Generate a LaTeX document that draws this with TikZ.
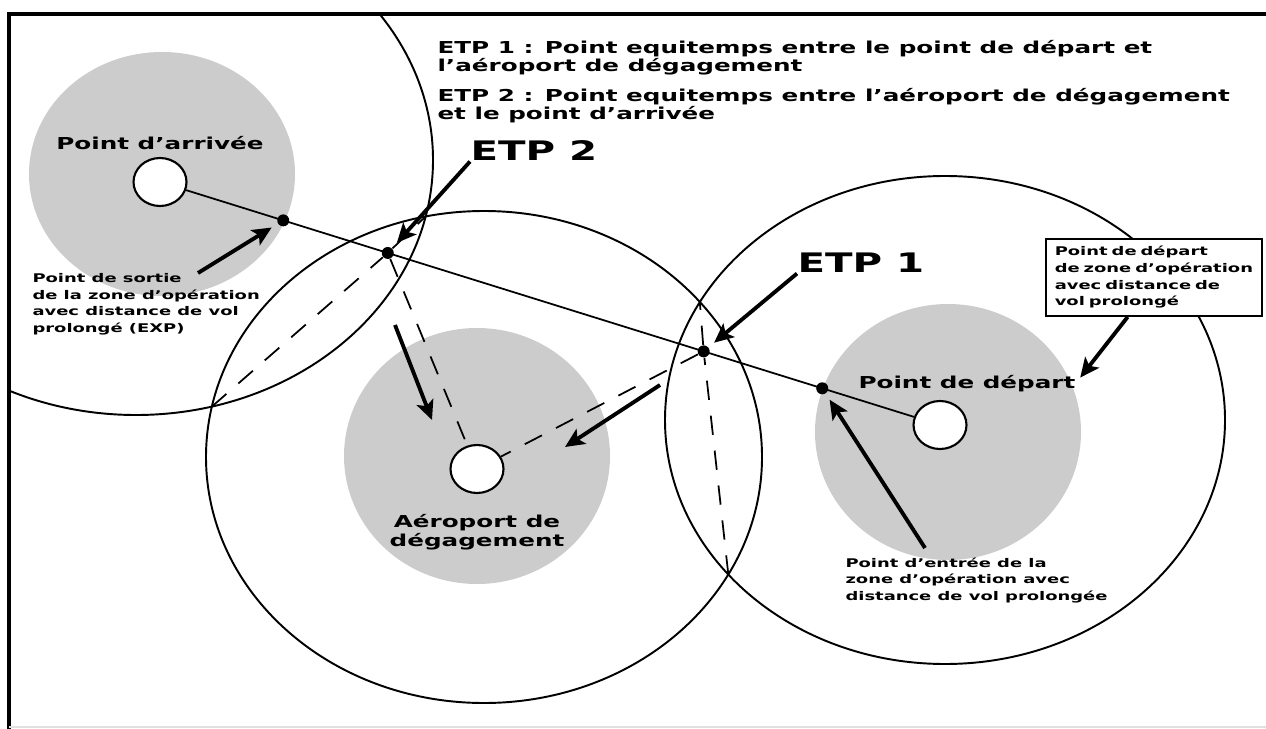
\documentclass[tikz,border=0pt]{standalone}
\usepackage{fontspec}
\newfontfamily\widefont[FakeStretch=1.5]{DejaVu Sans}
\usepackage{tikz}
\usetikzlibrary{positioning}
\usetikzlibrary{arrows.meta}
\usetikzlibrary{shapes,calc,intersections}
\tikzset{airport node/.style={ellipse,draw,fill=white,line width=1.2pt,minimum width=1.06cm,minimum height=0.96cm,inner sep=0pt},
  point node/.style={circle,fill=black,minimum size=0.24cm,inner sep=0pt},
  zone/.style={line width=1.1pt},
  area/.style={fill=black!20},
  route/.style={line width=1pt},
  divert/.style={line width=1pt,dash pattern=on 11pt off 9pt},
  pointer/.style={line width=2.2pt,-{Stealth[length=11pt,width=10pt,inset=2.5pt]},shorten >=4pt},
  big label/.style={font=\widefont\bfseries\fontsize{15.3}{18}\selectfont,inner sep=0pt},
  name label/.style={font=\widefont\bfseries\fontsize{9.35}{11.3}\selectfont,inner sep=0pt,align=center},
  small label/.style={font=\widefont\bfseries\fontsize{6.8}{9.5}\selectfont,inner sep=0pt,align=left},
  legend label/.style={font=\widefont\bfseries\fontsize{9.35}{10.2}\selectfont,inner sep=0pt,align=left,anchor=north west},
}

\begin{document}
\begin{tikzpicture}[x=0.02cm,y=-0.02cm,semithick]
    \useasboundingbox (0,0) rectangle (1266,729);
    \begin{scope}
      \clip (9,14) rectangle (1266,729);
      % grey areas round the airports
      \fill[area] (162,174) ellipse [x radius=133, y radius=122];
      \fill[area] (477,456) ellipse [x radius=133, y radius=128];
      \fill[area] (948,432) ellipse [x radius=133, y radius=128];
      % distance circles
      \draw[zone,name path=zarr] (136,160) ellipse [x radius=297, y radius=255];
      \draw[zone,name path=zdeg] (484,457) ellipse [x radius=278, y radius=246];
      \draw[zone,name path=zdep] (945,420) ellipse [x radius=280, y radius=244];
      \path[name intersections={of=zarr and zdeg,name=lensa}];
      \path[name intersections={of=zdeg and zdep,name=lensb}];
    \end{scope}

    \node[airport node] (arrivee) at (160,182) {};
    \node[airport node] (degagement) at (477,469) {};
    \node[airport node] (depart) at (940,425) {};

    \path (arrivee.center) -- (depart.center)
      node[point node,pos=0.158] (sortie) {}
      node[point node,pos=0.292] (etp2) {}
      node[point node,pos=0.697] (etp1) {}
      node[point node,pos=0.849] (entree) {};

    \draw[route] (arrivee) -- (depart);
    \draw[divert] (lensa-1) -- (etp2) -- (lensa-2);
    \draw[divert] (lensb-1) -- (etp1) -- (lensb-2);
    \draw[divert] (etp2) -- (degagement);
    \draw[divert] (etp1) -- (degagement);

    \node[name label, above=4pt of arrivee] (lblarrivee) {Point d’arrivée};
    \node[name label, below=11pt of degagement] (lbldegagement) {Aéroport de\\dégagement};
    \node[name label, anchor=base west] (lbldepart) at (858,388) {Point de départ};
    \node[big label, anchor=base west] (lbletp2) at (470,161) {ETP 2};
    \node[big label, anchor=base west] (lbletp1) at (797,273) {ETP 1};
    \node[small label, anchor=north west] (lblsortie) at (32,273) {Point de sortie\\de la zone d’opération\\avec distance de vol\\prolongé (EXP)};
    \node[small label, anchor=north west] (lblentree) at (845,557) {Point d’entrée de la\\zone d’opération avec\\distance de vol prolongée};
    \node[small label, draw, fill=white, line width=1.1pt, inner xsep=5pt, inner ysep=4.2pt, text width=113pt, anchor=north west] (lblzone) at (1045,238) {Point de départ\\de zone d’opération\\avec distance de\\vol prolongé};
    \node[legend label] (legend1) at (437,40) {ETP 1 : Point equitemps entre le point de départ et\\l’aéroport de dégagement};
    \node[legend label, below=7pt of legend1.south west, anchor=north west] (legend2) {ETP 2 : Point equitemps entre l’aéroport de dégagement\\et le point d’arrivée};

    \coordinate (tsortie) at (198,273);
    \coordinate (tentree) at (925,548);
    \coordinate (dira) at (395,325);
    \coordinate (dirb) at (432,420);
    \coordinate (dirc) at (660,385);
    \coordinate (dird) at (565,447);

    \path[pointer]
    (tsortie) edge (sortie)
    (lbletp2.south west) edge (etp2)
    (lbletp1.south west) edge (etp1)
    (tentree) edge (entree)
    ([xshift=-15pt]lblzone.south) edge (lbldepart.east);
    \draw[pointer,shorten >=0pt] (dira) -- (dirb);
    \draw[pointer,shorten >=0pt] (dirc) -- (dird);

    % frame
    \draw[line width=2.8pt] (9,729) -- (9,14) -- (1266,14);
    \draw[black!12,line width=1pt] (9,727) -- (1266,727);
\end{tikzpicture}
\end{document}
